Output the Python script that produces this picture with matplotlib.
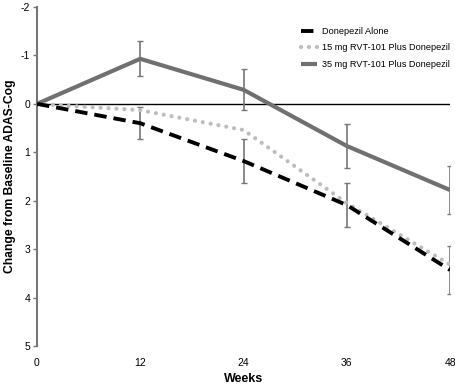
import numpy as np
import matplotlib
matplotlib.use('Agg')
import matplotlib.pyplot as plt

plt.rcParams['font.family'] = ['Liberation Sans', 'DejaVu Sans']
plt.rcParams['axes.unicode_minus'] = False

# 数据
weeks = [0, 12, 24, 36, 48]
donepezil = [0, 0.40, 1.18, 2.09, 3.43]
donepezil_err = [0, 0.33, 0.45, 0.45, 0.50]
rvt_15 = [0, 0.13, 0.54, 2.05, 3.32]
rvt_35 = [0, -0.93, -0.29, 0.87, 1.78]
rvt_35_err = [0, 0.36, 0.42, 0.45, 0.50]
labels = ['Donepezil Alone', '15 mg RVT-101 Plus Donepezil', '35 mg RVT-101 Plus Donepezil']

fig = plt.figure(figsize=(4.56, 3.85), dpi=100)
ax = fig.add_axes([0.0811, 0.1013, 0.906, 0.8805])

# 零线
ax.axhline(0, color='black', linewidth=1.0, zorder=1)

# 误差线
ax.errorbar(weeks[1:], donepezil[1:], yerr=donepezil_err[1:], fmt='none',
            ecolor='#777777', elinewidth=1.2, capsize=2.5, capthick=1.0, zorder=2)
ax.errorbar(weeks[1:], rvt_35[1:], yerr=rvt_35_err[1:], fmt='none',
            ecolor='#777777', elinewidth=1.2, capsize=2.5, capthick=1.0, zorder=2)

# 三条曲线
ax.plot(weeks, rvt_35, color='#707070', linewidth=3.0, label=labels[2], zorder=3,
        solid_capstyle='butt')
ax.plot(weeks, rvt_15, color='#bdbdbd', linewidth=3.0, linestyle=(0, (0.01, 1.9)),
        dash_capstyle='round', label=labels[1], zorder=4)
ax.plot(weeks, donepezil, color='black', linewidth=2.8, linestyle=(0, (3.2, 1.8)),
        label=labels[0], zorder=5)

ax.set_xlim(0, 48)
ax.set_ylim(5, -2)
ax.set_xticks(weeks)
ax.set_yticks(range(-2, 6))
ax.tick_params(axis='x', length=0, pad=9, labelsize=7.5)
ax.tick_params(axis='y', length=3, width=1, color='#777777', labelsize=7.5, pad=2)

for s in ['top', 'right', 'bottom']:
    ax.spines[s].set_visible(False)
ax.spines['left'].set_color('#777777')
ax.spines['left'].set_linewidth(1.5)

ax.set_xlabel('Weeks', fontsize=9, fontweight='bold', labelpad=3)
ax.set_ylabel('Change from Baseline ADAS-Cog', fontsize=8.7, fontweight='bold', labelpad=3)

handles, labs = ax.get_legend_handles_labels()
order = [2, 1, 0]
ax.legend([handles[i] for i in order], [labs[i] for i in order],
          loc='upper right', bbox_to_anchor=(1.02, 0.965), frameon=False,
          fontsize=6.6, handlelength=1.7, handletextpad=0.6, labelspacing=0.8)

plt.savefig('out.png', dpi=100)
